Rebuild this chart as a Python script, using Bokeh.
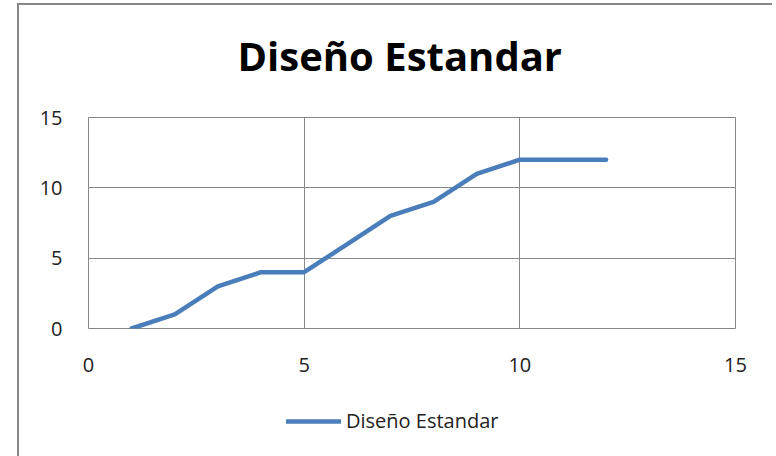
from bokeh.plotting import figure
from bokeh.layouts import column
from bokeh.models import FixedTicker, Legend, LegendItem, Label, Range1d
from bokeh.embed import file_html
from bokeh.resources import INLINE

x_vals = [1, 2, 3, 4, 5, 6, 7, 8, 9, 10, 11, 12]
y_vals = [0, 1, 3, 4, 4, 6, 8, 9, 11, 12, 12, 12]
x_ticks = [0, 5, 10, 15]
y_ticks = [0, 5, 10, 15]
title_text = "Diseño Estandar"
series_name = "Diseño Estandar"

FONT = "Open Sans"
GRID = "#878787"
LINE = "#4A7EBB"

W = 753
MB_L, MB_R = 69, 37
H_TITLE, H_MAIN, H_LEG = 95, 290, 66


def strip(height):
    f = figure(width=W, height=height, output_backend="svg", toolbar_location=None,
               x_axis_type=None, y_axis_type=None,
               min_border_left=MB_L, min_border_right=MB_R, min_border_top=0, min_border_bottom=0)
    f.outline_line_color = None
    f.xgrid.grid_line_color = None
    f.ygrid.grid_line_color = None
    return f


# title strip
p0 = strip(H_TITLE)
p0.add_layout(Label(x=149, y=45, x_units="screen", y_units="screen", text=title_text,
                    text_font=FONT, text_font_size="40px", text_font_style="bold",
                    text_color="#000000", text_align="left", text_baseline="middle"))

# main chart
p = figure(width=W, height=H_MAIN, output_backend="svg", toolbar_location=None,
           x_range=(0, 15), y_range=(0, 15),
           min_border_left=MB_L, min_border_right=MB_R, min_border_top=17, min_border_bottom=62)

for ax in (p.xaxis[0], p.yaxis[0]):
    ax.axis_line_color = None
    ax.major_tick_line_color = None
    ax.minor_tick_line_color = None
    ax.major_label_text_font = FONT
    ax.major_label_text_font_size = "20px"
    ax.major_label_text_color = "#222222"
p.xaxis[0].ticker = FixedTicker(ticks=x_ticks)
p.yaxis[0].ticker = FixedTicker(ticks=y_ticks)
p.xaxis[0].major_label_standoff = 23
p.yaxis[0].major_label_standoff = 20

p.xgrid.ticker = FixedTicker(ticks=x_ticks)
p.ygrid.ticker = FixedTicker(ticks=y_ticks)
p.xgrid.grid_line_color = GRID
p.ygrid.grid_line_color = GRID
p.outline_line_color = GRID
p.outline_line_width = 1

p.line(x_vals, y_vals, line_color=LINE, line_width=4.5, line_cap="round", line_join="round")

# legend strip (series drawn off-range so only the legend sample shows)
p2 = strip(H_LEG)
p2.x_range = Range1d(-100, -90)
p2.y_range = Range1d(-100, -90)
r2 = p2.line(x_vals, y_vals, line_color=LINE, line_width=4.5, line_cap="round")
legend = Legend(items=[LegendItem(label=series_name, renderers=[r2])],
                orientation="horizontal", location=(198, 22),
                glyph_width=55, label_standoff=5,
                label_text_font=FONT, label_text_font_size="20px", label_text_color="#222222",
                border_line_color=None, background_fill_alpha=0,
                margin=0, padding=0)
p2.add_layout(legend, "center")

layout = column(p0, p, p2, spacing=0)
layout.styles = {"margin-left": "17px", "margin-top": "3px",
                 "border-left": "2px solid #878787", "border-top": "2px solid #878787"}

html = file_html(layout, INLINE)
html = html.replace("</head>", "<style>html,body{margin:0;overflow:hidden}</style></head>", 1)
open("out.html", "w").write(html)
